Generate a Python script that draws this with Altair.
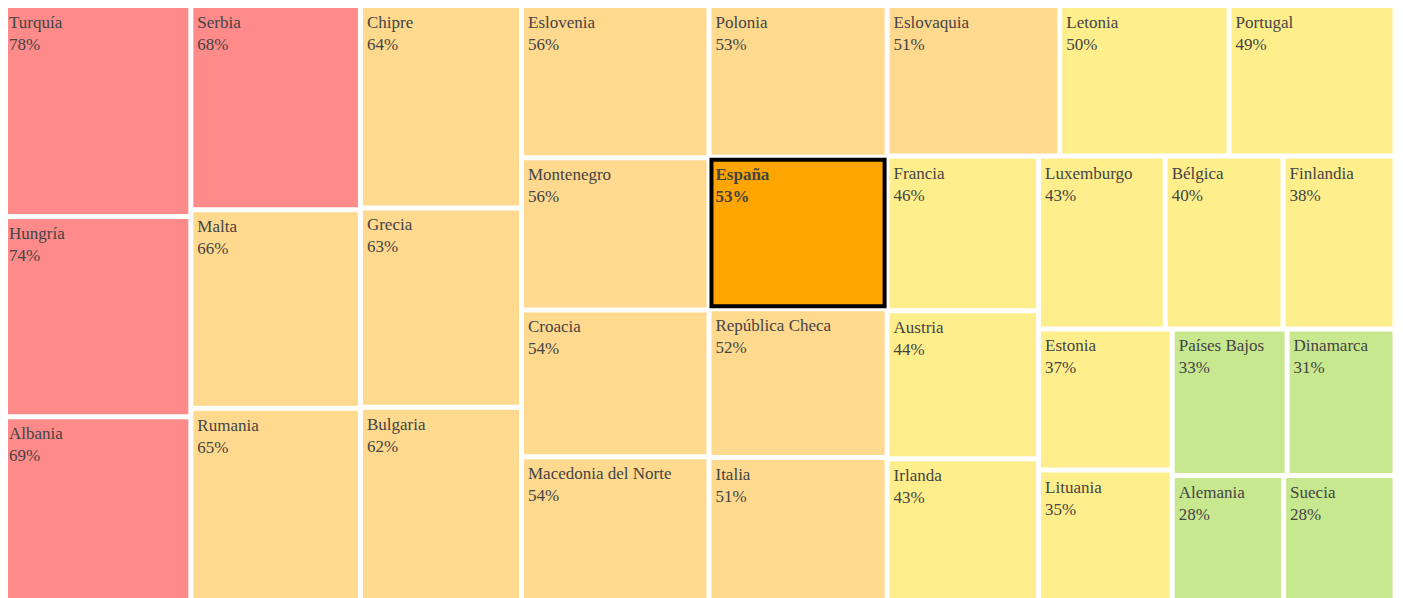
import altair as alt
import pandas as pd

countries = ["Turquía", "Hungría", "Albania", "Serbia", "Malta", "Rumania",
             "Chipre", "Grecia", "Bulgaria", "Eslovenia", "Montenegro", "Croacia",
             "Macedonia del Norte", "Polonia", "España", "República Checa", "Italia",
             "Eslovaquia", "Letonia", "Portugal", "Francia", "Austria", "Irlanda",
             "Luxemburgo", "Bélgica", "Finlandia", "Estonia", "Lituania",
             "Países Bajos", "Dinamarca", "Alemania", "Suecia"]
values = [78, 74, 69, 68, 66, 65, 64, 63, 62, 56, 56, 54, 54, 53, 53, 52, 51,
          51, 50, 49, 46, 44, 43, 43, 40, 38, 37, 35, 33, 31, 28, 28]
groups = (["rojo"] * 4 + ["naranja"] * 10 + ["destacado"] + ["naranja"] * 3
          + ["amarillo"] * 10 + ["verde"] * 4)
group_names = ["rojo", "naranja", "amarillo", "verde", "destacado"]
group_colors = ["#FF8A8A", "#FFD98E", "#FFEE8C", "#C8E890", "#FFA500"]

# layout size (in pixels of the treemap area) and cell gap
W, H, PAD = 1392.5, 598.0, 2.5


def squarify(vals, x0, y0, x1, y1, ratio=1.0):
    n = len(vals)
    out = [None] * n
    value = float(sum(vals))
    i0 = 0
    while i0 < n:
        dx, dy = x1 - x0, y1 - y0
        i1 = i0
        s = vals[i1]
        i1 += 1
        mn = mx = s
        alpha = max(dy / dx, dx / dy) / (value * ratio)
        beta = s * s * alpha
        minr = max(mx / beta, beta / mn)
        while i1 < n:
            v = vals[i1]
            s2 = s + v
            mn2, mx2 = min(mn, v), max(mx, v)
            beta = s2 * s2 * alpha
            nr = max(mx2 / beta, beta / mn2)
            if nr > minr:
                break
            s, mn, mx, minr = s2, mn2, mx2, nr
            i1 += 1
        row = range(i0, i1)
        if dx < dy:
            ny = y0 + dy * s / value
            cx = x0
            for i in row:
                w = dx * vals[i] / s
                out[i] = (cx, y0, cx + w, ny)
                cx += w
            y0 = ny
        else:
            nx = x0 + dx * s / value
            cy = y0
            for i in row:
                h = dy * vals[i] / s
                out[i] = (x0, cy, nx, cy + h)
                cy += h
            x0 = nx
        value -= s
        i0 = i1
    return out


boxes = squarify(values, 0.0, 0.0, W, H)
df = pd.DataFrame({
    "pais": countries,
    "valor": values,
    "grupo": groups,
    "x0": [b[0] + PAD for b in boxes],
    "x1": [b[2] - PAD for b in boxes],
    "y0": [b[1] + PAD for b in boxes],
    "y1": [b[3] - PAD for b in boxes],
})
df["pct"] = df["valor"].astype(str) + "%"
df["dest"] = df["grupo"] == "destacado"

PW, PH = 1387, 590
xs = alt.Scale(domain=[5.5, 5.5 + PW], nice=False, zero=False)
ys = alt.Scale(domain=[2.5, 2.5 + PH], nice=False, zero=False, reverse=True)

base = alt.Chart(df)

rects = base.mark_rect(stroke=None).encode(
    x=alt.X("x0:Q", scale=xs, axis=None),
    x2="x1:Q",
    y=alt.Y("y0:Q", scale=ys, axis=None),
    y2="y1:Q",
    color=alt.Color("grupo:N", scale=alt.Scale(domain=group_names, range=group_colors), legend=None),
)

hl = base.transform_filter("datum.dest").mark_rect(
    fill="#FFA500", stroke="#000000", strokeWidth=4
).encode(x=alt.X("x0:Q", scale=xs, axis=None), x2="x1:Q",
         y=alt.Y("y0:Q", scale=ys, axis=None), y2="y1:Q")

txt_kw = dict(align="left", baseline="alphabetic", font="Liberation Serif",
              fontSize=17, color="#444444", dx=4)

names = base.transform_filter("!datum.dest").mark_text(dy=20, **txt_kw).encode(
    x=alt.X("x0:Q", scale=xs, axis=None), y=alt.Y("y0:Q", scale=ys, axis=None), text="pais:N")
pcts = base.transform_filter("!datum.dest").mark_text(dy=42, **txt_kw).encode(
    x=alt.X("x0:Q", scale=xs, axis=None), y=alt.Y("y0:Q", scale=ys, axis=None), text="pct:N")
names_b = base.transform_filter("datum.dest").mark_text(dy=20, fontWeight="bold", **txt_kw).encode(
    x=alt.X("x0:Q", scale=xs, axis=None), y=alt.Y("y0:Q", scale=ys, axis=None), text="pais:N")
pcts_b = base.transform_filter("datum.dest").mark_text(dy=42, fontWeight="bold", **txt_kw).encode(
    x=alt.X("x0:Q", scale=xs, axis=None), y=alt.Y("y0:Q", scale=ys, axis=None), text="pct:N")

chart = alt.layer(rects, hl, names, pcts, names_b, pcts_b).properties(
    width=PW, height=PH,
    autosize=alt.AutoSizeParams(type="none"),
    padding=0,
).configure_view(stroke=None)

chart.save("out.html", embed_options={"renderer": "svg", "actions": False})
